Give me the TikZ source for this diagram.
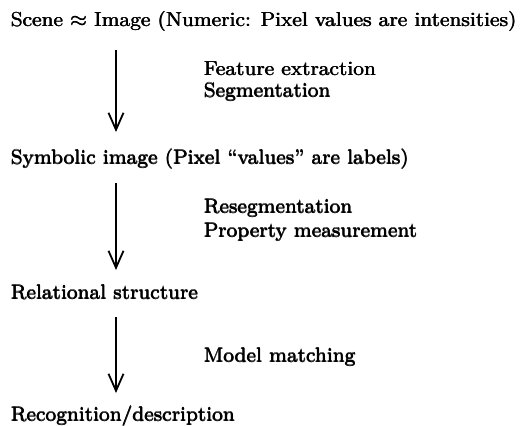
\documentclass[tikz,border=0pt]{standalone}
\usetikzlibrary{arrows.meta}
\newcommand\heavytext[1]{\rlap{\kern0.25pt #1}\rlap{\raisebox{0.15pt}{\kern0.12pt #1}}#1}
\begin{document}
\begin{tikzpicture}[x=1pt,y=-1pt,
  stagetext/.style={anchor=base west,inner sep=0pt,font=\fontsize{8}{10}\selectfont,scale=2.52,transform shape},
  flow/.style={line width=1.8pt,-{Straight Barb[length=17pt,width=15pt,line width=1.8pt]}}]
\useasboundingbox (0,0) rectangle (526,425);
\node[stagetext] (s1) at (10,27) {\heavytext{Scene $\approx$ Image (Numeric: Pixel values are intensities)}};
\node[stagetext] (s2) at (10,164) {\heavytext{Symbolic image (Pixel ``values'' are labels)}};
\node[stagetext] (s3) at (10,299) {\heavytext{Relational structure}};
\node[stagetext] (s4) at (10,421) {\heavytext{Recognition/description}};
\coordinate (a1s) at (116,50);
\coordinate (a1e) at (116,132);
\coordinate (a2s) at (116,183);
\coordinate (a2e) at (116,270);
\coordinate (a3s) at (116,317);
\coordinate (a3e) at (116,393);
\draw[flow] (a1s) -- (a1e);
\draw[flow] (a2s) -- (a2e);
\draw[flow] (a3s) -- (a3e);
\node[stagetext] (l1a) at (203,76) {\heavytext{Feature extraction}};
\node[stagetext] (l1b) at (203,97) {\heavytext{Segmentation}};
\node[stagetext] (l2a) at (203,213) {\heavytext{Resegmentation}};
\node[stagetext] (l2b) at (203,237) {\heavytext{Property measurement}};
\node[stagetext] (l3) at (203,362) {\heavytext{Model matching}};
\end{tikzpicture}
\end{document}
